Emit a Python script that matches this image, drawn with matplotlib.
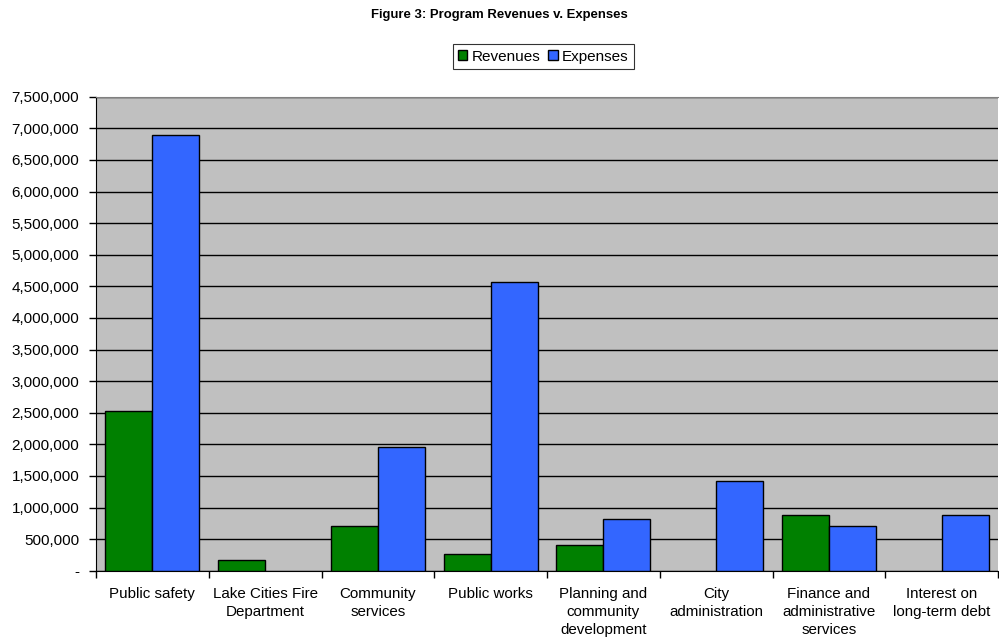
import numpy as np
import matplotlib
matplotlib.use("Agg")
import matplotlib.pyplot as plt
from matplotlib.ticker import FuncFormatter, MultipleLocator
from matplotlib.patches import Patch

plt.rcParams['font.family'] = ['Liberation Sans', 'DejaVu Sans']

categories = [
    "Public safety",
    "Lake Cities Fire\nDepartment",
    "Community\nservices",
    "Public works",
    "Planning and\ncommunity\ndevelopment",
    "City\nadministration",
    "Finance and\nadministrative\nservices",
    "Interest on\nlong-term debt",
]
revenues = [2520000, 170000, 707000, 264000, 411000, None, 886000, None]
expenses = [6894000, None, 1953000, 4573000, 818000, 1420000, 707000, 886000]

green = "#008000"
blue = "#3366FF"
plot_bg = "#C0C0C0"

fig = plt.figure(figsize=(9.99, 6.43), dpi=100)
ax = fig.add_axes([0.0961, 0.1124, 0.903, 0.7372])
ax.set_facecolor(plot_bg)

width = 1 / 2.4
x = np.arange(len(categories))

def draw_series(values, offset, color):
    idx = [i for i, v in enumerate(values) if v is not None]
    vals = [values[i] for i in idx]
    ax.bar(x[idx] + offset, vals, width=width, color=color,
           edgecolor="black", linewidth=1.0, zorder=3)

draw_series(revenues, -width / 2, green)
draw_series(expenses, width / 2, blue)

ax.set_xlim(-0.5, len(categories) - 0.5)
ax.set_ylim(0, 7500000)
ax.yaxis.set_major_locator(MultipleLocator(500000))
ax.yaxis.set_major_formatter(FuncFormatter(
    lambda v, p: "-" if abs(v) < 1 else f"{v:,.0f}"))
ax.grid(axis="y", color="black", linewidth=1.0, zorder=1)
ax.set_axisbelow(True)

# category labels centred, tick marks on the category boundaries
ax.set_xticks(x)
ax.set_xticklabels(categories, fontsize=10.9, linespacing=1.35, va="top")
ax.tick_params(axis="x", which="major", length=0, pad=12)
ax.set_xticks(np.arange(-0.5, len(categories) + 0.5, 1), minor=True)
ax.tick_params(axis="x", which="minor", length=5, width=1, color="black",
               direction="out")
ax.tick_params(axis="y", length=5, width=1, direction="out",
               labelsize=11, pad=7, color="black")

ax.spines["right"].set_visible(False)
ax.spines["top"].set_color("#808080")
ax.spines["left"].set_color("black")
ax.spines["bottom"].set_color("black")

fig.text(0.5, 0.986, "Figure 3: Program Revenues v. Expenses",
         ha="center", va="top", fontsize=9.45, fontweight="bold")

handles = [Patch(facecolor=green, edgecolor="black", label="Revenues"),
           Patch(facecolor=blue, edgecolor="black", label="Expenses")]
leg = fig.legend(handles=handles, loc="center", bbox_to_anchor=(0.544, 0.912),
                 ncol=2, frameon=True, fancybox=False, fontsize=11,
                 handlelength=0.6, handleheight=0.6, handletextpad=0.3,
                 columnspacing=0.5, borderpad=0.35, borderaxespad=0)
leg.get_frame().set_edgecolor("black")
leg.get_frame().set_linewidth(0.8)

fig.savefig("out.png", dpi=100)
